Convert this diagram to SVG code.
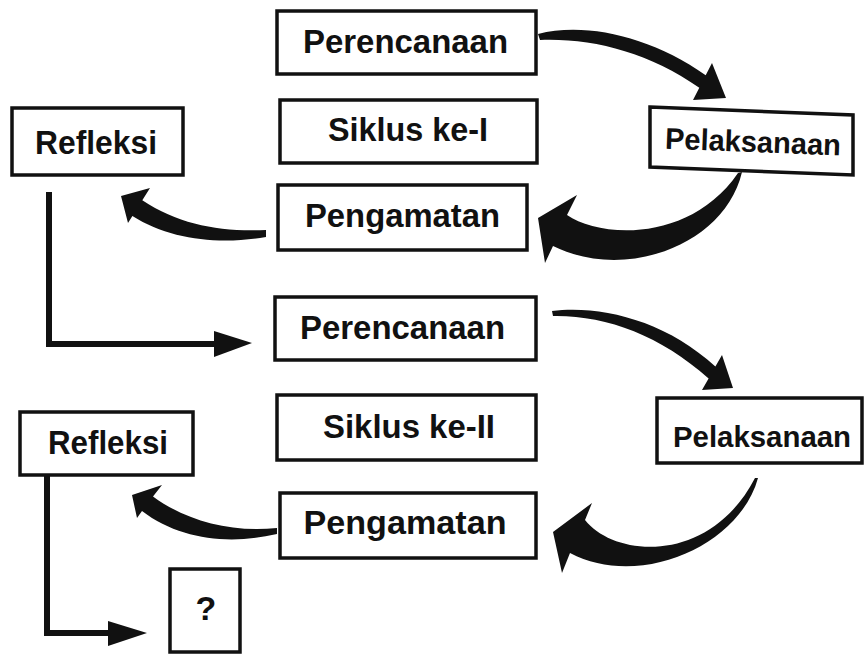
<svg xmlns="http://www.w3.org/2000/svg" width="864" height="655" viewBox="0 0 864 655">
<style>
.box{fill:#fff;stroke:#111;stroke-width:3.5}
.t{font-family:"Liberation Sans",Arial,sans-serif;font-weight:bold;font-size:34px;fill:#111;text-anchor:middle}
.s{font-size:30px}
.arr{fill:#111;stroke:none}
.ln{fill:none;stroke:#111;stroke-width:6;stroke-linejoin:miter}
</style>
<rect width="864" height="655" fill="#fff"/>
<g id="connectors">
<path class="arr" d="M538,34 C585,22 650,36 705.7,75.2 L712,63 L726,98 L693,100 L699.3,87.8 C648,52 592,38 540,40 Z"/>
<path class="arr" d="M742,172 C725,245 625,282 553,246 L545,263 L538,218 L577,195 L567,215 C600,238 690,243 738,173 Z"/>
<path class="arr" d="M266,230 C220,232 180,225 142.3,200.3 L150,188 L121,196 L128,223 L132.4,216 C170,240 220,245 266,237 Z"/>
<path class="ln" d="M49,192 V344 H218"/>
<polygon class="arr" points="214,331 252,343 214,357"/>
<path class="arr" d="M552,311 C600,305 665,320 715.4,366.6 L722,355 L733,388 L702,390 L708.6,378.5 C660,335 605,315 553,316 Z"/>
<path class="arr" d="M758,478 C740,545 640,590 570,553 L562,573 L553,532 L592,503 L585,520 C615,558 710,565 755,478 Z"/>
<path class="arr" d="M277,528 C230,533 185,520 153,496.5 L162,485 L132,495 L137,518 L142,511 C180,540 230,545 277,534 Z"/>
<path class="ln" d="M47,475 V633 H112"/>
<polygon class="arr" points="108,621 147,633 108,646"/>
</g>
<g id="perencanaan1"><rect class="box" x="277" y="11" width="259" height="63"/><text class="t" x="405.5" y="53" textLength="205" lengthAdjust="spacingAndGlyphs">Perencanaan</text></g>
<g id="siklus1"><rect class="box" x="280" y="100" width="257" height="63"/><text class="t" x="408" y="141" textLength="160" lengthAdjust="spacingAndGlyphs">Siklus ke-I</text></g>
<g id="pengamatan1"><rect class="box" x="278" y="185" width="249" height="65"/><text class="t" x="402.5" y="227" textLength="195" lengthAdjust="spacingAndGlyphs">Pengamatan</text></g>
<g id="pelaksanaan1"><polygon class="box" points="650,107 853,115 853,175 650,167"/><text class="t s" x="753" y="152" textLength="176" lengthAdjust="spacingAndGlyphs" transform="rotate(2.2 751 141)">Pelaksanaan</text></g>
<g id="refleksi1"><rect class="box" x="12" y="108" width="171" height="67"/><text class="t" x="96" y="154" textLength="122" lengthAdjust="spacingAndGlyphs">Refleksi</text></g>
<g id="perencanaan2"><rect class="box" x="275" y="297" width="261" height="63"/><text class="t" x="402.5" y="339" textLength="205" lengthAdjust="spacingAndGlyphs">Perencanaan</text></g>
<g id="siklus2"><rect class="box" x="277" y="395" width="259" height="65"/><text class="t" x="409" y="438" textLength="172" lengthAdjust="spacingAndGlyphs">Siklus ke-II</text></g>
<g id="pelaksanaan2"><rect class="box" x="657" y="398" width="205" height="65"/><text class="t s" x="762" y="447" textLength="178" lengthAdjust="spacingAndGlyphs">Pelaksanaan</text></g>
<g id="pengamatan2"><rect class="box" x="280" y="493" width="256" height="65"/><text class="t" x="405" y="534" textLength="203" lengthAdjust="spacingAndGlyphs">Pengamatan</text></g>
<g id="refleksi2"><rect class="box" x="20" y="412" width="173" height="63"/><text class="t" x="108" y="454" textLength="120" lengthAdjust="spacingAndGlyphs">Refleksi</text></g>
<g id="tanya"><rect class="box" x="170" y="569" width="70" height="83"/><text class="t" x="206" y="620" font-size="32">?</text></g>
</svg>
